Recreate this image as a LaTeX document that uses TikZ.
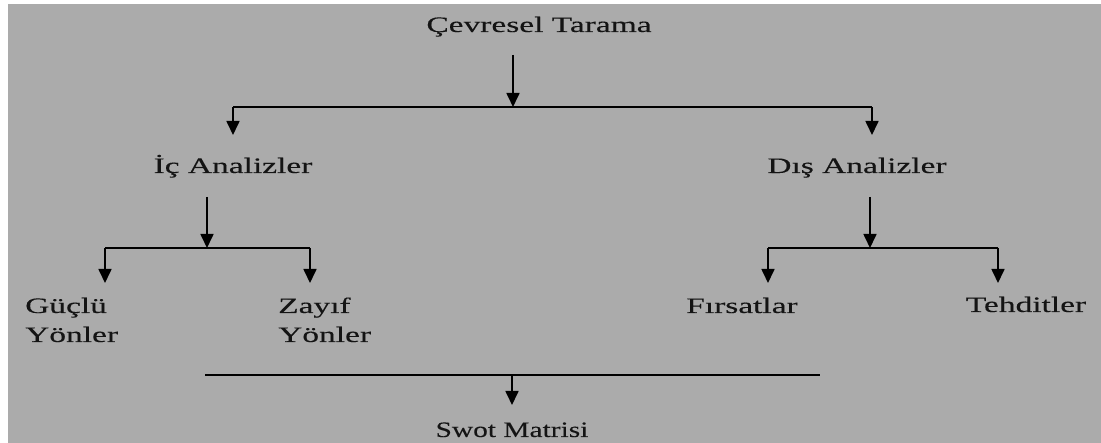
\documentclass[tikz,border=0pt]{standalone}
\usepackage{fontspec}
\setmainfont{Liberation Serif}[FakeStretch=1.52,FakeBold=0.2]
\usetikzlibrary{arrows.meta}
\definecolor{bg}{RGB}{171,171,171}
\definecolor{ink}{RGB}{20,20,20}
\begin{document}
\begin{tikzpicture}[x=1pt,y=-1pt,
  lbl/.style={inner sep=0pt,font=\fontsize{22}{29}\selectfont,text=ink},
  conn/.style={draw=black,line width=1.7pt},
  arr/.style={conn,-{Triangle[length=14pt,width=13pt]}}]
\fill[white] (0,0) rectangle (1101,443);
\fill[bg] (8,4) rectangle (1101,443);
\useasboundingbox (0,0) rectangle (1101,443);
% text nodes
\node[lbl,anchor=base] (cev) at (539,32) {Çevresel Tarama};
\node[lbl,anchor=base] (ic) at (233,173) {İç Analizler};
\node[lbl,anchor=base] (dis) at (857,173) {Dış Analizler};
\node[lbl,anchor=base west] (guc) at (25,313) {\begin{tabular}[t]{@{}l@{}}Güçlü\\Yönler\end{tabular}};
\node[lbl,anchor=base west] (zay) at (278,313) {\begin{tabular}[t]{@{}l@{}}Zayıf\\Yönler\end{tabular}};
\node[lbl,anchor=base] (fir) at (742,313) {Fırsatlar};
\node[lbl,anchor=base] (teh) at (1026,312) {Tehditler};
\node[lbl,anchor=base] (swot) at (512,437) {\scalebox{0.88}[1]{Swot Matrisi}};
% level 1
\coordinate (a0) at (513,55);
\coordinate (j1) at (513,107);
\coordinate (l1) at (233,107);
\coordinate (r1) at (872,107);
\coordinate (icT) at (233,135);
\coordinate (disT) at (872,135);
\draw[arr] (a0) -- (j1);
\draw[conn] (l1) -- (r1);
\draw[arr] (l1) -- (icT);
\draw[arr] (r1) -- (disT);
% level 2 left
\coordinate (a1) at (207,197);
\coordinate (j2) at (207,248);
\coordinate (l2) at (105,248);
\coordinate (r2) at (310,248);
\coordinate (gucT) at (105,283);
\coordinate (zayT) at (310,283);
\draw[arr] (a1) -- (j2);
\draw[conn] (l2) -- (r2);
\draw[arr] (l2) -- (gucT);
\draw[arr] (r2) -- (zayT);
% level 2 right
\coordinate (a2) at (870,197);
\coordinate (j3) at (870,248);
\coordinate (l3) at (768,248);
\coordinate (r3) at (998,248);
\coordinate (firT) at (768,283);
\coordinate (tehT) at (998,283);
\draw[arr] (a2) -- (j3);
\draw[conn] (l3) -- (r3);
\draw[arr] (l3) -- (firT);
\draw[arr] (r3) -- (tehT);
% bottom
\coordinate (bl) at (205,375);
\coordinate (br) at (820,375);
\coordinate (bj) at (512,375);
\coordinate (swT) at (512,405);
\draw[conn] (bl) -- (br);
\draw[arr] (bj) -- (swT);
\end{tikzpicture}
\end{document}
